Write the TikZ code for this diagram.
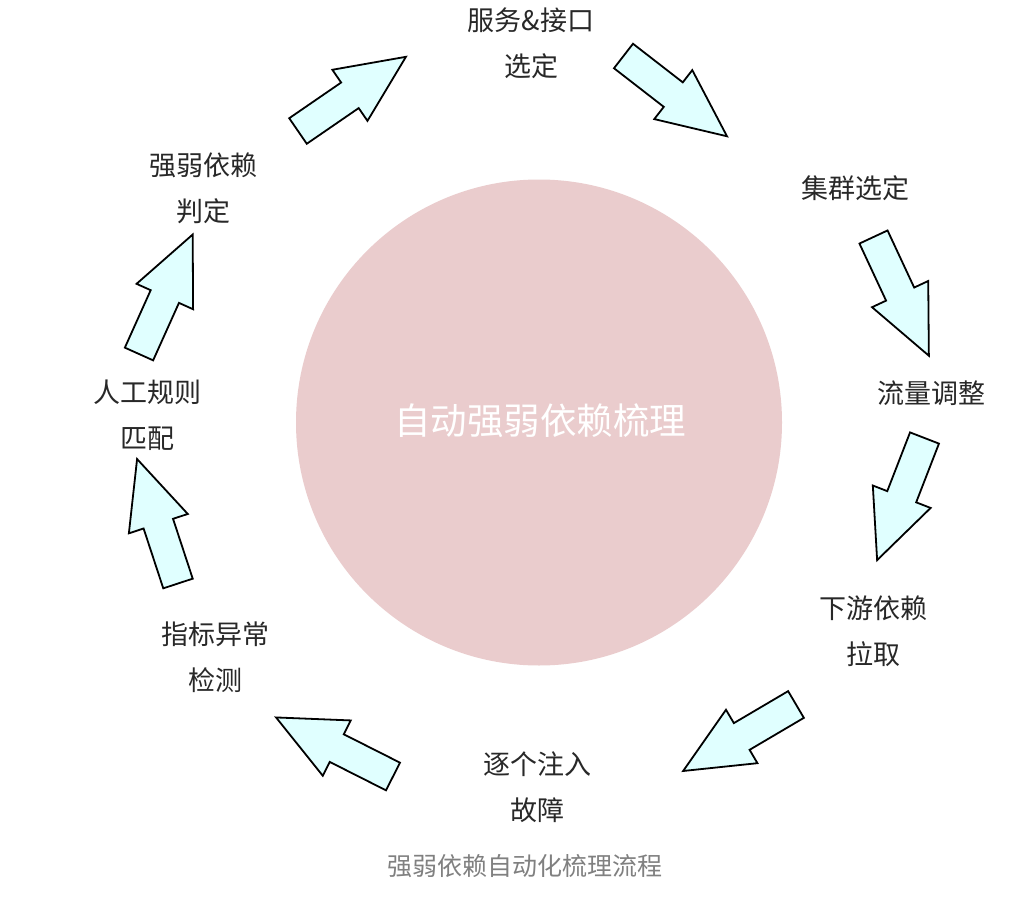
\documentclass[tikz,border=0pt]{standalone}
\usepackage{fontspec}
\newfontfamily\cjk{Noto Sans CJK SC}
\definecolor{hub}{RGB}{234,204,205}
\definecolor{arrowfill}{RGB}{224,255,255}
\definecolor{labeltext}{RGB}{40,40,40}
\definecolor{captiontext}{RGB}{128,128,128}
\tikzset{
  steplabel/.style={font=\cjk\fontsize{27}{46}\selectfont, text=labeltext, align=center, inner sep=0pt},
  arrowbody/.style={draw=black, line width=1.8pt, line join=miter, fill=arrowfill},
  blockarrow/.pic={
    \path[arrowbody] (0,15.5) -- (63,15.5) -- (63,31) -- (131,0)
      -- (63,-31) -- (63,-15.5) -- (0,-15.5) -- cycle;
  }
}
\begin{document}
\begin{tikzpicture}[x=1pt, y=-1pt]
\useasboundingbox[fill=white] (0,0) rectangle (1021,907);

% central hub
\node[circle, fill=hub, minimum size=486pt, inner sep=0pt] (hub) at (539,422.5) {};
\node[font=\cjk\fontsize{36.5}{40}\selectfont, text=white] (hubtext) at (540,421) {自动强弱依赖梳理};

% process steps
\node[steplabel] (s1) at (531,43) {服务\&接口\\选定};
\node[steplabel] (s2) at (855,188) {集群选定};
\node[steplabel] (s3) at (931,393) {流量调整};
\node[steplabel] (s4) at (873,631) {下游依赖\\拉取};
\node[steplabel] (s5) at (537,787) {逐个注入\\故障};
\node[steplabel] (s6) at (215,657) {指标异常\\检测};
\node[steplabel] (s7) at (147,415) {人工规则\\匹配};
\node[steplabel] (s8) at (203,188) {强弱依赖\\判定};

% block arrows between the steps (placed at the tail, rotated toward the tip)
\pic[rotate=34.5]  (a81) at (298,131)   {blockarrow};
\pic[rotate=-37.8] (a12) at (623.5,56)  {blockarrow};
\pic[rotate=-65.0] (a23) at (873.5,237) {blockarrow};
\pic[rotate=-111.2] (a34) at (924.5,438) {blockarrow};
\pic[rotate=-149.5] (a45) at (796,704.5) {blockarrow};
\pic[rotate=153.2] (a56) at (393,776.5) {blockarrow};
\pic[rotate=108.2] (a67) at (178,583.5) {blockarrow};
\pic[rotate=65.8]  (a78) at (139,354)   {blockarrow};

% caption
\node[font=\cjk\fontsize{25}{28}\selectfont, text=captiontext] (caption) at (525,866) {强弱依赖自动化梳理流程};
\end{tikzpicture}
\end{document}
